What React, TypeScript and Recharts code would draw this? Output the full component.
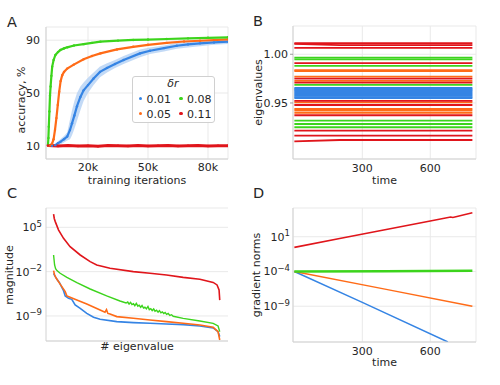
import React from "react";
import { ComposedChart, LineChart, Line, Area, XAxis, YAxis, CartesianGrid } from "recharts";

const FONT = "'DejaVu Sans', sans-serif";
const INK = "#262626";
const GRID = "#e9e9e9";
const SPINE = "#d2d2d2";

// learning rates (legend) and their colours
const rateLabels = ["0.01", "0.05", "0.08", "0.11"];
const rateColors = ["#3584e4", "#ff6b17", "#3cd41c", "#e0151b"];

// ---- A: accuracy vs training iterations
const itersBlue = [0, 2000, 3700, 5000, 6200, 8000, 9600, 11000, 12000, 13200, 14500, 16200, 17800, 20000, 22800, 26000, 29500, 33500, 37800, 46000, 51000, 58000, 64400, 70000, 76000, 83000, 90000];
const accBlue = [10, 10, 10.5, 12, 13, 15, 17, 22, 27, 33, 40, 47, 52, 56, 61, 66, 69, 72, 75, 80, 82, 84, 85.8, 86.8, 87.6, 88.3, 88.9];
const accBlueLo = [9.5, 9.5, 9.5, 10.5, 11, 12.5, 14, 15, 18, 23, 29, 37, 44, 50, 56, 62, 65.5, 69, 72, 77, 79.5, 81.5, 83.5, 84.5, 85.5, 86.5, 87.2];
const accBlueHi = [10.5, 10.5, 11.5, 13.5, 15, 17.5, 20, 30, 37, 44, 50, 55, 58, 61.5, 65.5, 70, 72.5, 75, 78, 83, 84.5, 86, 88, 88.8, 89.4, 89.8, 90.4];

const itersOrange = [0, 1000, 2000, 2800, 3500, 4200, 4900, 5600, 6300, 7100, 8000, 9600, 12900, 17800, 22000, 26200, 34500, 42600, 50000, 59400, 68000, 76000, 90000];
const accOrange = [10, 10.3, 11.5, 15, 22, 31, 41, 51, 59, 63.5, 66, 68.5, 71.5, 75.5, 78, 80, 83, 85, 86.5, 88, 89, 89.6, 90.6];

const itersGreen = [0, 200, 400, 700, 1000, 1300, 1700, 2100, 2800, 3700, 5000, 6200, 8000, 9600, 13000, 17800, 22000, 26200, 35000, 42600, 50000, 59400, 70000, 80000, 90000];
const accGreen = [11, 16, 24.5, 36, 48, 55, 63, 70, 75, 78.8, 81, 82.6, 83.8, 84.6, 86, 87, 88, 88.9, 89.7, 90.2, 90.5, 90.9, 91.4, 91.8, 92.2];

const itersRed = [0, 5000, 10000, 15000, 20000, 25000, 30000, 35000, 40000, 45000, 50000, 55000, 60000, 65000, 70000, 75000, 80000, 85000, 90000];
const accRed = [10.2, 9.8, 10.3, 9.9, 10.1, 9.7, 10.2, 10.0, 9.8, 10.3, 9.9, 10.1, 10.2, 9.8, 10.0, 10.3, 9.9, 10.1, 10.0];

// ---- B: eigenvalues over time
const eigTimes = [0, 200, 786];
const eigBlue = [0.9549, 0.9561, 0.9573, 0.9585, 0.9597, 0.9609, 0.9621, 0.9633, 0.9645, 0.9655];
const eigOrange = [0.9838, 0.9826, 0.977, 0.9726, 0.9507, 0.9438, 0.9421, 0.9398];
const eigGreen = [0.9965, 0.9948, 0.988, 0.9685, 0.9318, 0.9284, 0.9251];
const eigRed = [
  [1.0113, 1.0113, 1.0113],
  [1.0107, 1.0094, 1.0094],
  [1.0065, 1.0065, 1.0065],
  [0.9908, 0.9908, 0.9908],
  [0.9749, 0.9749, 0.9749],
  [0.9708, 0.9708, 0.9708],
  [0.9521, 0.9521, 0.9521],
  [0.9479, 0.9479, 0.9479],
  [0.9374, 0.9374, 0.9374],
  [0.9216, 0.9216, 0.9216],
  [0.9164, 0.9164, 0.9164],
  [0.9105, 0.912, 0.912],
];

// ---- C: eigenvalue magnitude spectrum (log10 of magnitude, by rank in %)
const rankBlue = [1.0, 2.0, 3.0, 4.5, 5.9, 6.9, 7.9, 9.9, 11.8, 13.8, 16.8, 20.7, 24.7, 28.6, 38.5, 48.3, 58.2, 68.0, 77.9, 87.8, 95.7, 98.6, 99.6];
const magBlue = [-2.26, -2.79, -3.21, -3.74, -4.47, -5.0, -5.84, -6.21, -6.37, -7.26, -7.79, -8.58, -9.21, -9.53, -9.89, -10.05, -10.16, -10.26, -10.37, -10.58, -10.89, -11.47, -12.26];
const rankOrange = [1.0, 1.6, 2.6, 3.9, 5.9, 7.9, 8.9, 10.8, 14.8, 20.7, 28.6, 31.5, 32.4, 33.2, 34.5, 38.5, 48.3, 58.2, 68.0, 77.9, 87.8, 95.7, 98.6, 99.6];
const magOrange = [-1.84, -2.53, -3.05, -3.58, -4.37, -5.16, -5.84, -6.05, -6.47, -7.1, -8.05, -8.4, -8.0, -8.6, -8.7, -9.1, -9.37, -9.63, -9.89, -10.16, -10.42, -10.79, -11.47, -12.79];
const rankGreen = [1.0, 1.6, 2.2, 3.0, 4.9, 8.9, 14.8, 22.7, 32.5, 40.4, 44, 45, 45.8, 46.7, 47.5, 48.4, 49.2, 50.1, 51, 51.8, 52.7, 53.5, 54.4, 55.2, 56.1, 57, 57.8, 58.7, 59.5, 60.4, 61.2, 62.1, 63, 63.8, 64.7, 65.5, 66.4, 67.2, 68.1, 69, 70, 71, 72, 77.9, 87.8, 95.7, 98.6, 99.6];
const magGreen = [0.63, -0.95, -1.53, -1.84, -2.26, -2.89, -3.74, -4.74, -5.84, -6.63, -6.95, -6.8, -7.12, -6.85, -7.2, -7.05, -7.38, -7.0, -7.45, -7.3, -7.62, -7.35, -7.75, -7.6, -7.88, -7.5, -8.0, -7.85, -8.15, -7.9, -8.25, -8.1, -8.4, -8.15, -8.5, -8.35, -8.62, -8.45, -8.75, -8.6, -8.9, -8.8, -9.05, -9.37, -9.79, -10.16, -10.58, -11.47];
const rankRed = [1.0, 1.4, 2.0, 3.9, 6.9, 10.8, 16.8, 22.7, 26.6, 34.5, 48.3, 58.2, 68, 77.9, 87.8, 95.7, 98, 99.2, 99.6];
const magRed = [7.1, 6.4, 5.9, 4.6, 3.26, 1.95, 0.63, -0.42, -0.95, -1.47, -2.0, -2.26, -2.53, -2.9, -3.2, -3.7, -4.1, -4.9, -6.5];

// ---- D: gradient norms over time (log10)
const gradTimesBlue = [0, 300, 678];
const gradBlue = [-4, -8.45, -14.15];
const gradTimesOrange = [0, 400, 786];
const gradOrange = [-4, -6.54, -9.0];
const gradTimesGreen = [0, 400, 786];
const gradGreen = [-4, -3.97, -3.9];
const gradTimesRed = [0, 200, 400, 600, 690, 700, 786];
const gradRed = [-0.53, 0.74, 2.01, 3.28, 3.85, 3.78, 4.46];

const tickStyle = { fill: INK, fontSize: 11, fontFamily: FONT };

const pairs = (xs: number[], ys: number[]) => xs.map((x, i) => ({ x, y: ys[i] }));
const pow10 = (xs: number[], ys: number[]) => xs.map((x, i) => ({ x, y: Math.pow(10, ys[i]) }));

const xTitle = (text: string, x: number, y: number) => () => (
  <text x={x} y={y} textAnchor="middle" fill={INK} fontSize={11} fontFamily={FONT}>
    {text}
  </text>
);
const yTitle = (text: string, x: number, y: number) => () => (
  <text x={x} y={y} transform={`rotate(-90 ${x} ${y})`} textAnchor="middle" dominantBaseline="central" fill={INK} fontSize={11} fontFamily={FONT}>
    {text}
  </text>
);

const PowTick = (p: any) => {
  const e = Math.round(Math.log10(p.payload.value));
  return (
    <text x={p.x} y={p.y} dy={4} textAnchor="end" fill={INK} fontSize={11} fontFamily={FONT}>
      10<tspan dy={-4.5} fontSize={8.5}>{e < 0 ? `\u2212${-e}` : `${e}`}</tspan>
    </text>
  );
};

function PanelA() {
  const band = itersBlue.map((x, i) => ({ x, band: [accBlueLo[i], accBlueHi[i]] }));
  const series = [
    { c: rateColors[0], d: pairs(itersBlue, accBlue), w: 2.2 },
    { c: rateColors[1], d: pairs(itersOrange, accOrange), w: 2.2 },
    { c: rateColors[2], d: pairs(itersGreen, accGreen), w: 2.2 },
    { c: rateColors[3], d: pairs(itersRed, accRed), w: 3 },
  ];
  return (
    <ComposedChart width={250} height={190} margin={{ top: 27, right: 22, bottom: 0, left: 6 }}>
      <CartesianGrid stroke={GRID} />
      <XAxis dataKey="x" type="number" domain={[-1000, 90000]} ticks={[20000, 50000, 80000]} interval={0}
        tickFormatter={(v) => `${v / 1000}k`} height={31} tickLine={false} tickSize={0} tickMargin={4}
        axisLine={{ stroke: SPINE }} tick={tickStyle} allowDataOverflow
        label={xTitle("training iterations", 137, 184)} />
      <YAxis type="number" domain={[0, 100]} ticks={[10, 50, 90]} interval={0} width={40}
        tickLine={false} tickSize={0} tickMargin={6} axisLine={{ stroke: SPINE }} tick={tickStyle} allowDataOverflow
        label={yTitle("accuracy, %", 21, 100)} />
      <Area data={band} dataKey="band" type="linear" stroke="none" fill="#b9d4f5" fillOpacity={0.85} isAnimationActive={false} />
      {series.map((s, i) => (
        <Line key={i} data={s.d} dataKey="y" type="linear" stroke={s.c} strokeWidth={s.w}
          dot={{ r: 1.2, fill: s.c, stroke: "none" }} activeDot={false} isAnimationActive={false} />
      ))}
    </ComposedChart>
  );
}

function PanelB() {
  const lines: { c: string; d: { x: number; y: number }[] }[] = [];
  eigBlue.forEach((v) => lines.push({ c: rateColors[0], d: pairs(eigTimes, [v, v, v]) }));
  eigOrange.forEach((v) => lines.push({ c: rateColors[1], d: pairs(eigTimes, [v, v, v]) }));
  eigGreen.forEach((v) => lines.push({ c: rateColors[2], d: pairs(eigTimes, [v, v, v]) }));
  eigRed.forEach((r) => lines.push({ c: rateColors[3], d: pairs(eigTimes, r) }));
  return (
    <LineChart width={250} height={190} margin={{ top: 26, right: 24, bottom: 0, left: 3 }}>
      <CartesianGrid stroke={GRID} />
      <XAxis dataKey="x" type="number" domain={[-6, 802]} ticks={[300, 600]} interval={0} height={31}
        tickLine={false} tickSize={0} tickMargin={5} axisLine={{ stroke: SPINE }} tick={tickStyle} allowDataOverflow
        label={xTitle("time", 134.5, 184)} />
      <YAxis type="number" domain={[0.8925, 1.029]} ticks={[0.95, 1.0]} interval={0} width={40}
        tickFormatter={(v) => v.toFixed(2)} tickLine={{ stroke: "#9a9a9a" }} tickSize={3} tickMargin={2}
        axisLine={{ stroke: SPINE }} tick={tickStyle} allowDataOverflow
        label={yTitle("eigenvalues", 8, 92.5)} />
      {lines.map((l, i) => (
        <Line key={i} data={l.d} dataKey="y" type="linear" stroke={l.c} strokeWidth={1.8}
          dot={false} activeDot={false} isAnimationActive={false} />
      ))}
    </LineChart>
  );
}

function PanelC() {
  const series = [
    { c: rateColors[0], d: pow10(rankBlue, magBlue), w: 1.6 },
    { c: rateColors[1], d: pow10(rankOrange, magOrange), w: 1.6 },
    { c: rateColors[2], d: pow10(rankGreen, magGreen), w: 1.4 },
    { c: rateColors[3], d: pow10(rankRed, magRed), w: 1.6 },
  ];
  return (
    <LineChart width={250} height={195} margin={{ top: 18, right: 22, bottom: 0, left: 6 }}>
      <CartesianGrid stroke={GRID} vertical={false} />
      <XAxis dataKey="x" type="number" domain={[-3.5, 104.5]} tick={false} tickLine={false} height={44}
        axisLine={{ stroke: SPINE }} allowDataOverflow label={xTitle("# eigenvalue", 137, 159.5)} />
      <YAxis type="number" scale="log" domain={[1.12e-13, 1.12e8]} ticks={[1e-9, 1e-2, 1e5]} interval={0} width={40}
        tickLine={false} tickSize={0} tickMargin={4} axisLine={{ stroke: SPINE }} tick={(p: any) => <PowTick {...p} />}
        allowDataOverflow label={yTitle("magnitude", 9, 85)} />
      {series.map((s, i) => (
        <Line key={i} data={s.d} dataKey="y" type="linear" stroke={s.c} strokeWidth={s.w}
          dot={false} activeDot={false} isAnimationActive={false} />
      ))}
    </LineChart>
  );
}

function PanelD() {
  const series = [
    { c: rateColors[0], d: pow10(gradTimesBlue, gradBlue), w: 1.5 },
    { c: rateColors[1], d: pow10(gradTimesOrange, gradOrange), w: 1.5 },
    { c: rateColors[2], d: pow10(gradTimesGreen, gradGreen), w: 2.6 },
    { c: rateColors[3], d: pow10(gradTimesRed, gradRed), w: 1.6 },
  ];
  return (
    <LineChart width={250} height={195} margin={{ top: 18, right: 24, bottom: 0, left: 3 }}>
      <CartesianGrid stroke={GRID} />
      <XAxis dataKey="x" type="number" domain={[-6, 802]} ticks={[300, 600]} interval={0} height={43}
        tickLine={false} tickSize={0} tickMargin={5} axisLine={{ stroke: SPINE }} tick={tickStyle} allowDataOverflow
        label={xTitle("time", 134.5, 175.5)} />
      <YAxis type="number" scale="log" domain={[7.08e-15, 1.38e5]} ticks={[1e-9, 1e-4, 1e1]} interval={0} width={40}
        tickLine={false} tickSize={0} tickMargin={3} axisLine={{ stroke: SPINE }} tick={(p: any) => <PowTick {...p} />}
        allowDataOverflow label={yTitle("gradient norms", 6, 85)} />
      {series.map((s, i) => (
        <Line key={i} data={s.d} dataKey="y" type="linear" stroke={s.c} strokeWidth={s.w}
          dot={false} activeDot={false} isAnimationActive={false} />
      ))}
    </LineChart>
  );
}

function LegendA() {
  const cols = [[0, 1], [2, 3]];
  return (
    <div style={{ position: "absolute", left: 131.5, top: 76, width: 83, height: 47, boxSizing: "border-box",
      border: "1px solid #d0d0d0", borderRadius: 3, background: "rgba(255,255,255,0.85)", fontFamily: FONT, color: INK, fontSize: 11 }}>
      <div style={{ position: "absolute", left: 0, top: 0, width: "100%", textAlign: "center", lineHeight: "13px", fontStyle: "italic" }}>δr</div>
      {cols.map((col, ci) =>
        col.map((k, ri) => (
          <div key={k} style={{ position: "absolute", left: ci === 0 ? 6 : 46.5, top: 15.5 + ri * 15, lineHeight: "13px", whiteSpace: "nowrap" }}>
            <span style={{ display: "inline-block", width: 3.6, height: 3.6, borderRadius: 2, background: rateColors[k], marginRight: 4.5, verticalAlign: "middle", position: "relative", top: -1 }} />
            {rateLabels[k]}
          </div>
        ))
      )}
    </div>
  );
}

export default function App() {
  return (
    <div style={{ position: "absolute", left: 0, top: 0, width: 500, height: 385, background: "#fff" }}>
      <div style={{ position: "absolute", left: 0, top: 0 }}><PanelA /></div>
      <div style={{ position: "absolute", left: 250, top: 0 }}><PanelB /></div>
      <div style={{ position: "absolute", left: 0, top: 190 }}><PanelC /></div>
      <div style={{ position: "absolute", left: 250, top: 190 }}><PanelD /></div>
      <LegendA />
      <svg width={500} height={385} style={{ position: "absolute", left: 0, top: 0, pointerEvents: "none" }}>
        {[["A", 7, 26.5], ["B", 253, 26], ["C", 7, 198], ["D", 253, 198]].map(([t, x, y]) => (
          <text key={t as string} x={x as number} y={y as number} fontSize={14.5} fontFamily={FONT} fill={INK}>{t}</text>
        ))}
      </svg>
    </div>
  );
}
